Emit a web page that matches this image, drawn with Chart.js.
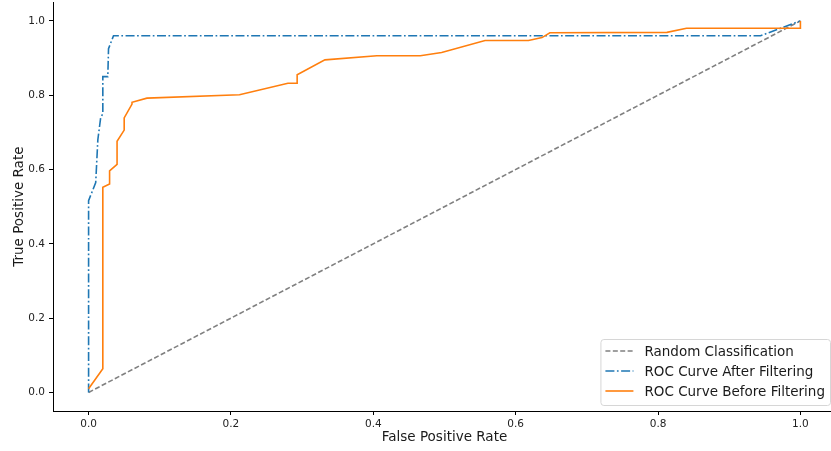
<!DOCTYPE html>
<html>
<head>
<meta charset="utf-8">
<script src="https://cdn.jsdelivr.net/npm/chart.js@4/dist/chart.umd.min.js"></script>
<style>
  html, body { margin: 0; padding: 0; background: #fff; overflow: hidden; }
  #wrap { width: 836px; height: 459px; margin-top: -8px; }
</style>
</head>
<body>
<div id="wrap"><canvas id="roc" width="836" height="459"></canvas></div>
<script>
// diagonal reference
const randomFpr = [0, 1];
const randomTpr = [0, 1];

// ROC after filtering
const afterFpr = [0, 0, 0.01, 0.013, 0.017, 0.02, 0.02, 0.027, 0.028, 0.035, 0.944, 1.0];
const afterTpr = [0, 0.516, 0.565, 0.68, 0.74, 0.75, 0.85, 0.85, 0.925, 0.96, 0.96, 1.0];

// ROC before filtering
const beforeFpr = [0, 0.02, 0.02, 0.0295, 0.0295, 0.04, 0.04, 0.05, 0.05, 0.061, 0.061, 0.082,
  0.212, 0.28, 0.293, 0.293, 0.332, 0.405, 0.466, 0.496, 0.557, 0.618, 0.637, 0.648,
  0.8125, 0.84, 1.0, 1.0];
const beforeTpr = [0.01, 0.064, 0.552, 0.561, 0.596, 0.614, 0.676, 0.706, 0.739, 0.776, 0.781, 0.792,
  0.801, 0.832, 0.832, 0.855, 0.895, 0.906, 0.906, 0.915, 0.947, 0.947, 0.955, 0.968,
  0.969, 0.98, 0.98, 1.0];

const tickValues = [0, 0.2, 0.4, 0.6, 0.8, 1.0];

const toPoints = (xs, ys) => xs.map((x, i) => ({ x: x, y: ys[i] }));

// legend drawn inside the plot, bottom right, like matplotlib's
const innerLegend = {
  id: "innerLegend",
  afterDraw(chart) {
    const { ctx, chartArea } = chart;
    const sets = chart.data.datasets;
    ctx.save();
    ctx.font = "13.5px 'DejaVu Sans'";
    let maxW = 0;
    sets.forEach((d) => { maxW = Math.max(maxW, ctx.measureText(d.label).width); });
    const w = 44 + maxW + 5;
    const h = 66;
    const right = chartArea.right - 6;
    const bottom = chartArea.bottom - 6;
    const left = right - w;
    const top = bottom - h;

    ctx.beginPath();
    ctx.roundRect(left + 0.5, top + 0.5, w, h, 3);
    ctx.fillStyle = "rgba(255,255,255,0.8)";
    ctx.fill();
    ctx.strokeStyle = "#d6d6d6";
    ctx.lineWidth = 1;
    ctx.stroke();

    sets.forEach((d, i) => {
      const y = top + 12 + i * 20;
      ctx.beginPath();
      ctx.setLineDash(d.borderDash || []);
      ctx.strokeStyle = d.borderColor;
      ctx.lineWidth = d.borderWidth;
      ctx.moveTo(left + 5, y);
      ctx.lineTo(left + 33, y);
      ctx.stroke();
      ctx.setLineDash([]);
      ctx.fillStyle = "#1a1a1a";
      ctx.textBaseline = "middle";
      ctx.fillText(d.label, left + 44, y + 1);
    });
    ctx.restore();
  },
};

const ctx = document.getElementById("roc").getContext("2d");
new Chart(ctx, {
  type: "line",
  data: {
    datasets: [
      {
        label: "Random Classification",
        data: toPoints(randomFpr, randomTpr),
        borderColor: "#808080",
        borderWidth: 1.6,
        borderDash: [5, 2.4],
        pointRadius: 0,
        order: 3,
      },
      {
        label: "ROC Curve After Filtering",
        data: toPoints(afterFpr, afterTpr),
        borderColor: "#1f77b4",
        borderWidth: 1.6,
        borderDash: [9, 2.5, 1.7, 2.5],
        pointRadius: 0,
        order: 2,
      },
      {
        label: "ROC Curve Before Filtering",
        data: toPoints(beforeFpr, beforeTpr),
        borderColor: "#ff7f0e",
        borderWidth: 1.6,
        pointRadius: 0,
        order: 1,
      },
    ],
  },
  options: {
    responsive: false,
    animation: false,
    layout: { padding: 0 },
    plugins: {
      legend: { display: false },
      tooltip: { enabled: false },
    },
    scales: {
      x: {
        type: "linear",
        min: -0.05,
        max: 1.05,
        afterBuildTicks: (axis) => { axis.ticks = tickValues.map((v) => ({ value: v })); },
        afterFit: (axis) => { axis.height = 40; },
        grid: { drawOnChartArea: false, tickLength: 4, color: "#000" },
        border: { color: "#000", width: 1 },
        ticks: {
          padding: 3,
          color: "#222",
          font: { family: "DejaVu Sans", size: 10.5 },
          callback: (v) => Number(v).toFixed(1),
        },
        title: {
          display: true,
          text: "False Positive Rate",
          color: "#1a1a1a",
          font: { family: "DejaVu Sans", size: 13.5 },
          padding: { top: 0, bottom: 5 },
        },
      },
      y: {
        type: "linear",
        min: -0.05,
        max: 1.05,
        afterBuildTicks: (axis) => { axis.ticks = tickValues.map((v) => ({ value: v })); },
        afterFit: (axis) => { axis.width = 53; },
        grid: { drawOnChartArea: false, tickLength: 4, color: "#000" },
        border: { color: "#000", width: 1 },
        ticks: {
          padding: 4,
          color: "#222",
          font: { family: "DejaVu Sans", size: 10.5 },
          callback: (v) => Number(v).toFixed(1),
        },
        title: {
          display: true,
          text: "True Positive Rate",
          color: "#1a1a1a",
          font: { family: "DejaVu Sans", size: 13.5 },
          padding: { top: 11, bottom: 0 },
        },
      },
    },
  },
  plugins: [innerLegend],
});
</script>
</body>
</html>
